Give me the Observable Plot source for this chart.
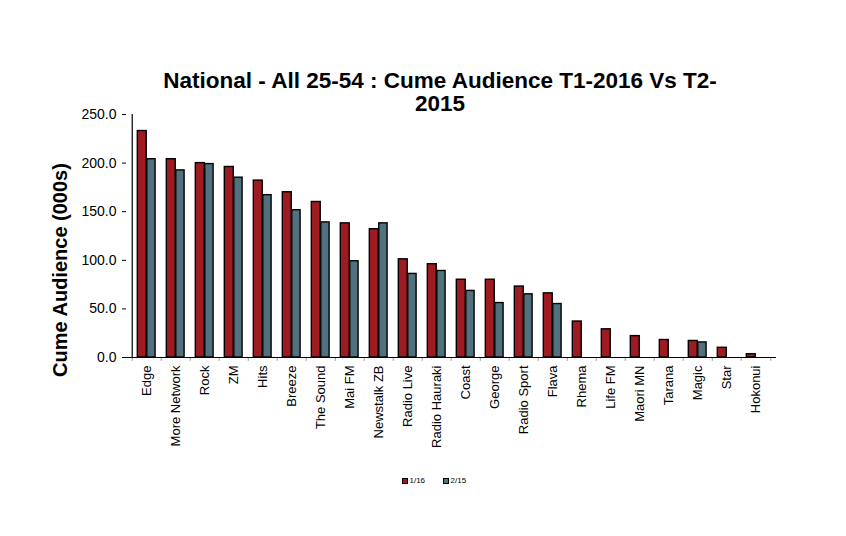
<!DOCTYPE html>
<html><head><meta charset="utf-8">
<script src="https://cdn.jsdelivr.net/npm/d3@7"></script>
<script src="https://cdn.jsdelivr.net/npm/@observablehq/plot@0.6"></script>
<style>
body{margin:0;background:#fff;font-family:"Liberation Sans",Arial,sans-serif;}
#wrap{width:846px;height:536px;position:relative;overflow:hidden;}
#title{height:100px;box-sizing:border-box;padding-top:69px;padding-left:34px;text-align:center;font-weight:bold;font-size:22.5px;line-height:23px;color:#000;}
#legend{position:absolute;left:402px;top:476px;font-size:8px;display:flex;gap:0;align-items:center;}
#legend span.sw{display:inline-block;width:4px;height:4px;border:0.8px solid #000;margin-right:1.5px;}
#legend span.lab{margin-right:18px;}
</style></head>
<body><div id="wrap">
<div id="title">National - All 25-54 : Cume Audience T1-2016 Vs T2-<br>2015</div>
<div id="chart"></div>
<div id="legend"><span class="sw" style="background:#9E1B22"></span><span class="lab">1/16</span><span class="sw" style="background:#52717F"></span><span class="lab">2/15</span></div>
</div>
<script>
const categories = ["Edge","More Network","Rock","ZM","Hits","Breeze","The Sound","Mai FM","Newstalk ZB","Radio Live","Radio Hauraki","Coast","George","Radio Sport","Flava","Rhema","Life FM","Maori MN","Tarana","Magic","Star","Hokonui"];
const series1 = [233,204,200,196,182,170,160,138,132,101,96,80,80,73,66,37,29,22,18,17,10,3.4];
const series2 = [204,192.5,199,185,167,151.5,139,99,138,86,89,68.5,56,65,55,null,null,null,null,15.5,null,null];
const seriesNames = ["1/16","2/15"];
const colors = ["#9E1B22","#52717F"];
const yTicks = [0,50,100,150,200,250];

const data1 = categories.map((c,i)=>({cat:c, v:series1[i]}));
const data2 = categories.map((c,i)=>({cat:c, v:series2[i]})).filter(d=>d.v!=null);

const W = 846, mL = 126, mR = 70;
const bw = (W - mL - mR) / categories.length;

const chart = Plot.plot({
  width: W,
  height: 370,
  marginLeft: mL,
  marginRight: mR,
  marginTop: 14,
  marginBottom: 113,
  style: {fontFamily: '"Liberation Sans", Arial, sans-serif', color: "#000", overflow: "visible"},
  x: {domain: categories, padding: 0},
  y: {domain: [0,250]},
  marks: [
    Plot.barY(data1, {x:"cat", y:"v", fill: colors[0], stroke:"#000", strokeWidth:1.4, insetLeft: bw*0.18, insetRight: bw*0.5}),
    Plot.barY(data2, {x:"cat", y:"v", fill: colors[1], stroke:"#000", strokeWidth:1.4, insetLeft: bw*0.5, insetRight: bw*0.2}),
    Plot.ruleX(categories, {x: d=>d, dx: -bw/2, y1: 0, y2: -4, stroke:"#999"}),
    Plot.ruleX([categories[categories.length-1]], {x: d=>d, dx: bw/2, y1: 0, y2: -4, stroke:"#999"}),
    Plot.axisX({tickSize:0, tickPadding:8, tickRotate:-90, fontSize:13, label:null}),
    Plot.axisY({ticks: yTicks, tickFormat: d=>d.toFixed(1), tickSize:4, tickPadding:6, fontSize:14, label:null}),
    Plot.ruleY([0], {stroke:"#000", strokeWidth:1.2}),
    Plot.ruleX([categories[0]], {x: d=>d, dx: -bw/2, y1:0, y2:250, stroke:"#000", strokeWidth:1.2}),
    Plot.text(["Cume Audience (000s)"], {frameAnchor:"left", textAnchor:"middle", dx:-66, dy:34, rotate:-90, fontSize:20, fontWeight:"bold", fill:"#000"})
  ]
});
document.getElementById("chart").appendChild(chart);
</script>
</body></html>
